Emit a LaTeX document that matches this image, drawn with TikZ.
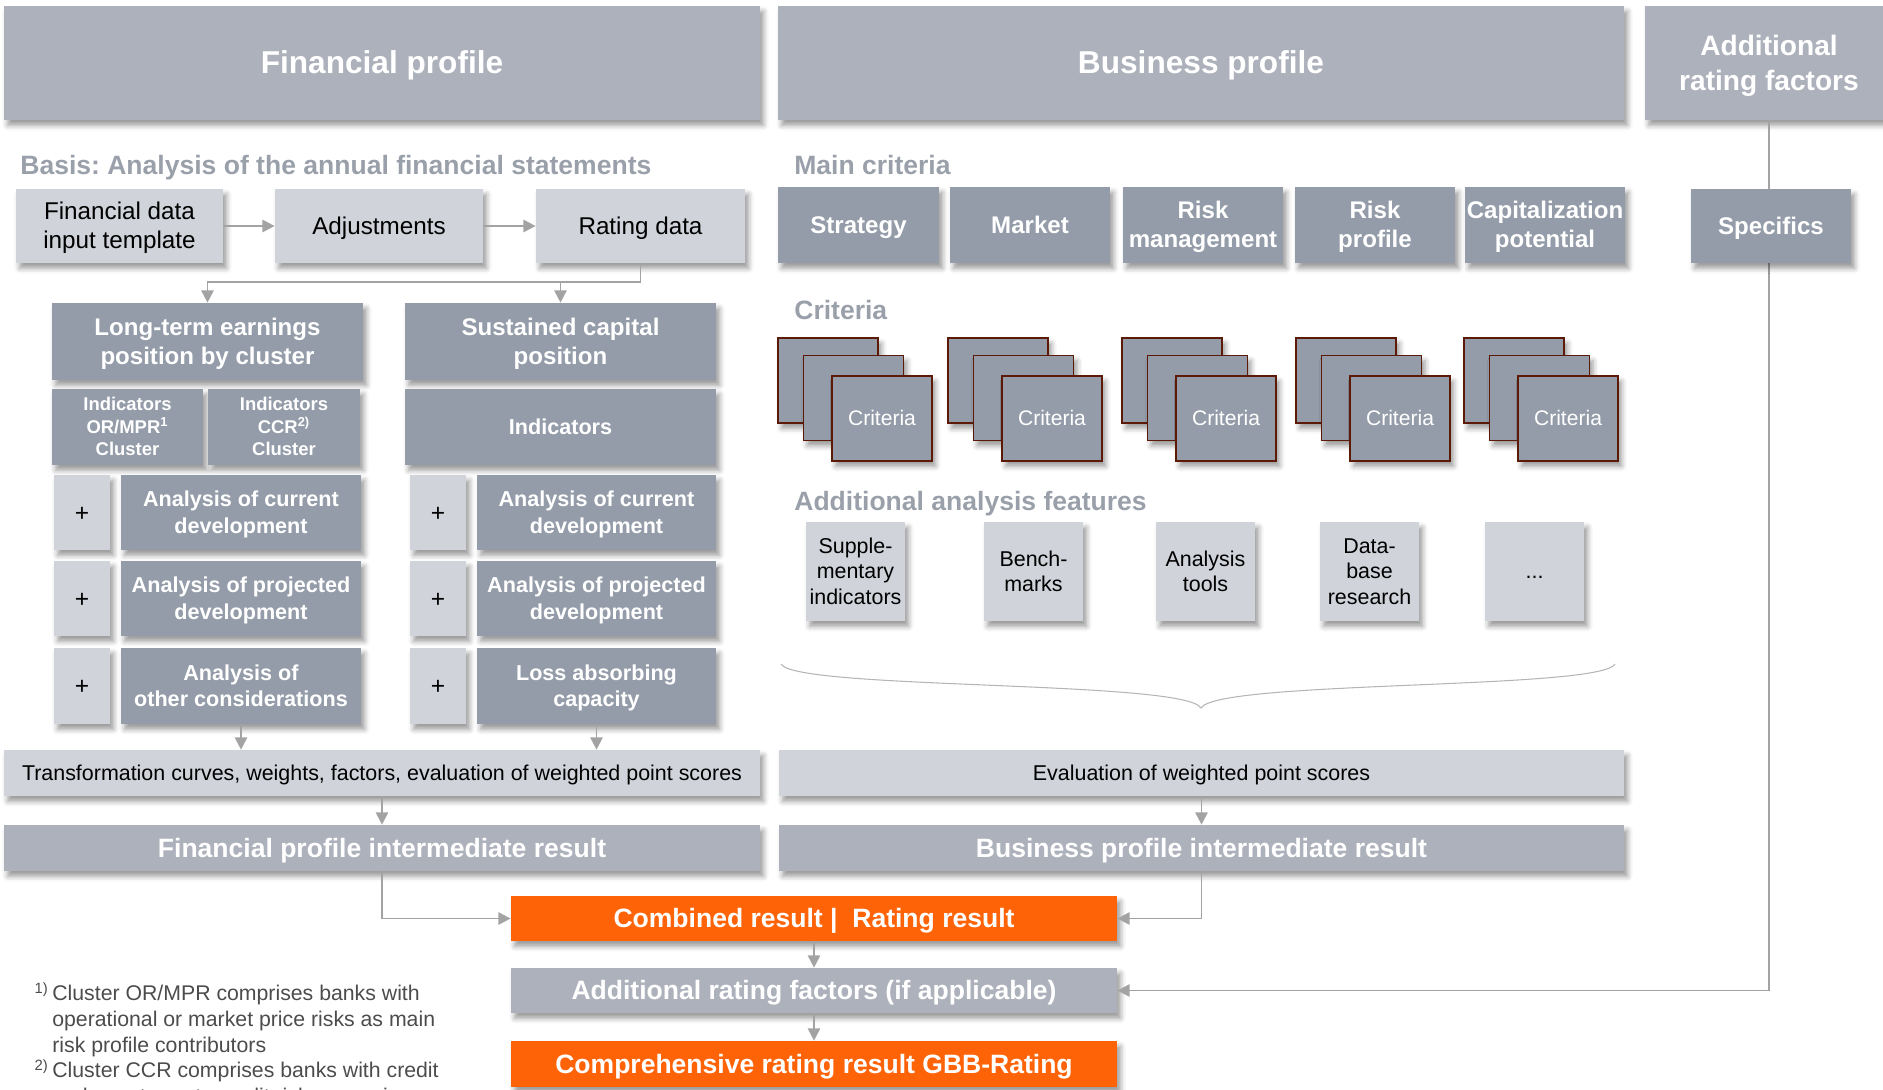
\documentclass[tikz,border=0pt]{standalone}
\usepackage{fontspec}
\setmainfont{Liberation Sans}
\usepackage{xcolor}
\usepackage{tikz}
\usetikzlibrary{arrows.meta}
\usetikzlibrary{shadows.blur}
\frenchspacing

\definecolor{hdrgray}{HTML}{ADB1BB}
\definecolor{boxdark}{HTML}{939CA8}
\definecolor{boxlight}{HTML}{D0D3DA}
\definecolor{ratorange}{HTML}{FF6308}
\definecolor{lblgray}{HTML}{9AA0AA}
\definecolor{arrgray}{HTML}{A3A3A3}
\definecolor{critborder}{HTML}{5A1A05}

% line strut with the full ascent/descent of the font
\newcommand{\ppstrut}{\leavevmode\vrule width 0pt height 0.905em depth 0.212em\relax}

\tikzset{sz/.style 2 args={minimum width=#1*0.02cm,minimum height=#2*0.02cm}}
\tikzstyle{bx}=[rectangle,inner sep=0,align=center,
  execute at begin node=\ppstrut,execute at end node=\ppstrut,
  blur shadow={shadow xshift=2pt,shadow yshift=-3pt,shadow blur radius=3pt,shadow opacity=40}]
\tikzstyle{hdr}=[bx,fill=hdrgray,text=white,font=\bfseries\fontsize{18}{21}\selectfont]
\tikzstyle{resbox}=[hdr,font=\bfseries\fontsize{15.1}{18}\selectfont]
\tikzstyle{darkbox}=[bx,fill=boxdark,text=white,font=\bfseries\fontsize{13.7}{16.5}\selectfont]
\tikzstyle{anlbox}=[darkbox,font=\bfseries\fontsize{12.3}{15}\selectfont]
\tikzstyle{smallbox}=[darkbox,font=\bfseries\fontsize{10.5}{12.8}\selectfont]
\tikzstyle{lightbox}=[bx,fill=boxlight,text=black,font=\fontsize{13.8}{16.5}\selectfont]
\tikzstyle{plusbox}=[lightbox,font=\fontsize{14}{16}\selectfont]
\tikzstyle{scorebox}=[lightbox,font=\fontsize{12.2}{14}\selectfont]
\tikzstyle{featbox}=[lightbox,sz={99}{99},font=\fontsize{12.2}{14.7}\selectfont]
\tikzstyle{orng}=[bx,fill=ratorange,text=white,font=\bfseries\fontsize{15.1}{18}\selectfont]
\tikzstyle{critbox}=[bx,sz={100}{85},fill=boxdark,draw=critborder,line width=1.1pt,
  text=white,font=\fontsize{12}{14}\selectfont]
\tikzstyle{sectlbl}=[anchor=west,inner sep=0,text=lblgray,font=\bfseries\fontsize{15.1}{18}\selectfont,
  execute at begin node=\ppstrut]
\tikzstyle{flow}=[draw=arrgray,line width=1.1pt,->]

\begin{document}
\begin{tikzpicture}[x=0.02cm,y=-0.02cm,>={Triangle[length=7pt,width=7pt]}]

	\useasboundingbox (0,0) rectangle (1883,1089);

% % % Headers
	\node[hdr,sz={756}{114}] (fin) at (382,63) {Financial profile};
	\node[hdr,sz={846}{114}] (bus) at (1201,63) {Business profile};
	\node[hdr,sz={248}{114},font=\bfseries\fontsize{16}{20}\selectfont] (addf) at (1769,63) {\ppstrut Additional\\rating factors};

	\node[sectlbl] (basis) at (20,165) {Basis: Analysis of the annual financial statements};
	\node[sectlbl] (mainc) at (794,165) {Main criteria};
	\node[sectlbl] (critl) at (794,310) {Criteria};
	\node[sectlbl] (featl) at (794,501) {Additional analysis features};

% % % Financial profile
	\node[lightbox,sz={207}{74}] (fdt) at (119.5,226) {\ppstrut Financial data\\input template};
	\node[lightbox,sz={208}{74}] (adj) at (379,226) {Adjustments};
	\node[lightbox,sz={209}{74}] (rdt) at (640.5,226) {Rating data};

	\path[flow] (fdt) -- (adj);
	\path[flow] (adj) -- (rdt);

	\node[darkbox,sz={311}{77}] (lte) at (207.5,341.5) {\ppstrut Long-term earnings\\position by cluster};
	\node[darkbox,sz={311}{77}] (scp) at (560.5,341.5) {\ppstrut Sustained capital\\position};

	\path (rdt.south) ++(0,19) coordinate (rsplit);
	\path[flow] (rdt.south) |- (lte.north |- rsplit) -- (lte.north);
	\path[flow] (scp.north |- rsplit) -- (scp.north);

	\node[smallbox,sz={151}{76}] (ior) at (127.5,427) {\ppstrut Indicators\\OR/MPR\textsuperscript{1}\\Cluster};
	\node[smallbox,sz={152}{76}] (icr) at (284,427) {\ppstrut Indicators\\CCR\textsuperscript{2)}\\Cluster};
	\node[anlbox,sz={311}{76}] (ind) at (560.5,427) {Indicators};

	\node[plusbox,sz={56}{75}] (lp1) at (82,512.5) {+};
	\node[anlbox,sz={240}{75}] (la1) at (241,512.5) {\ppstrut Analysis of current\\development};
	\node[plusbox,sz={56}{75}] (lp2) at (82,598.5) {+};
	\node[anlbox,sz={240}{75}] (la2) at (241,598.5) {\ppstrut Analysis of projected\\development};
	\node[plusbox,sz={56}{76}] (lp3) at (82,686) {+};
	\node[anlbox,sz={240}{76}] (la3) at (241,686) {\ppstrut Analysis of\\other considerations};

	\node[plusbox,sz={56}{75}] (rp1) at (438,512.5) {+};
	\node[anlbox,sz={239}{75}] (ra1) at (596.5,512.5) {\ppstrut Analysis of current\\development};
	\node[plusbox,sz={56}{75}] (rp2) at (438,598.5) {+};
	\node[anlbox,sz={239}{75}] (ra2) at (596.5,598.5) {\ppstrut Analysis of projected\\development};
	\node[plusbox,sz={56}{76}] (rp3) at (438,686) {+};
	\node[anlbox,sz={239}{76}] (ra3) at (596.5,686) {\ppstrut Loss absorbing\\capacity};

	\node[scorebox,sz={756}{46}] (trf) at (382,773) {Transformation curves, weights, factors, evaluation of weighted point scores};
	\node[resbox,sz={756}{46}] (fir) at (382,848) {Financial profile intermediate result};

	\path[flow] (la3.south) -- (la3.south |- trf.north);
	\path[flow] (ra3.south) -- (ra3.south |- trf.north);
	\path[flow] (trf) -- (fir);

% % % Business profile
	\node[darkbox,sz={161}{76}] (mc1) at (858.5,225) {Strategy};
	\node[darkbox,sz={160}{76}] (mc2) at (1030,225) {Market};
	\node[darkbox,sz={160}{76}] (mc3) at (1203,225) {\ppstrut Risk\\management};
	\node[darkbox,sz={160}{76}] (mc4) at (1375,225) {\ppstrut Risk\\profile};
	\node[darkbox,sz={160}{76}] (mc5) at (1545,225) {\ppstrut Capitalization\\potential};

	\node[critbox] (crb1) at (828,380.5) {};
	\node[critbox] (crm1) at (853.5,398) {};
	\node[critbox] (cr1) at (882,418.5) {Criteria};
	\node[critbox] (crb2) at (998,380.5) {};
	\node[critbox] (crm2) at (1023.5,398) {};
	\node[critbox] (cr2) at (1052,418.5) {Criteria};
	\node[critbox] (crb3) at (1172,380.5) {};
	\node[critbox] (crm3) at (1197.5,398) {};
	\node[critbox] (cr3) at (1226,418.5) {Criteria};
	\node[critbox] (crb4) at (1346,380.5) {};
	\node[critbox] (crm4) at (1371.5,398) {};
	\node[critbox] (cr4) at (1400,418.5) {Criteria};
	\node[critbox] (crb5) at (1514,380.5) {};
	\node[critbox] (crm5) at (1539.5,398) {};
	\node[critbox] (cr5) at (1568,418.5) {Criteria};

	\node[featbox] (ft1) at (855.5,571.5) {\ppstrut Supple-\\mentary\\indicators};
	\node[featbox] (ft2) at (1033.5,571.5) {\ppstrut Bench-\\marks};
	\node[featbox] (ft3) at (1205.5,571.5) {\ppstrut Analysis\\tools};
	\node[featbox] (ft4) at (1369.5,571.5) {\ppstrut Data-\\base\\research};
	\node[featbox] (ft5) at (1534.5,571.5) {...};

	% brace under the features
	\draw[arrgray!80,line width=0.6pt] (781,664) .. controls (795,690) and (1185,680) .. (1201,708)
	  .. controls (1217,680) and (1601,690) .. (1615,664);

	\node[scorebox,sz={845}{46}] (evl) at (1201.5,773) {Evaluation of weighted point scores};
	\node[resbox,sz={845}{46}] (bir) at (1201.5,848) {Business profile intermediate result};

	\path[flow] (evl) -- (bir);

% % % Result
	\node[orng,sz={606}{45}] (cmb) at (814,918.5) {Combined result |\ \ Rating result};
	\node[resbox,sz={606}{45}] (arf) at (814,990.5) {Additional rating factors (if applicable)};
	\node[orng,sz={606}{46}] (grb) at (814,1064) {Comprehensive rating result GBB-Rating};

	\path[flow] (fir.south) |- (cmb.west);
	\path[flow] (bir.south) |- (cmb.east);
	\path[flow] (cmb) -- (arf);
	\path[flow] (arf) -- (grb);
	\path[flow] (addf.south) |- (arf.east);

	\node[darkbox,sz={160}{74}] (spc) at (1771,226) {Specifics};

% % % Footnotes
	\node[anchor=north west,inner sep=0,align=left,text=black!70,font=\fontsize{12.1}{14.6}\selectfont] (fnt) at (52,982)
	{\llap{\textsuperscript{1)}\,}Cluster OR/MPR comprises banks with\\
	 operational or market price risks as main\\
	 risk profile contributors\\
	 \llap{\textsuperscript{2)}\,}Cluster CCR comprises banks with credit\\
	 and counterparty credit risks as main};

\end{tikzpicture}
\end{document}
